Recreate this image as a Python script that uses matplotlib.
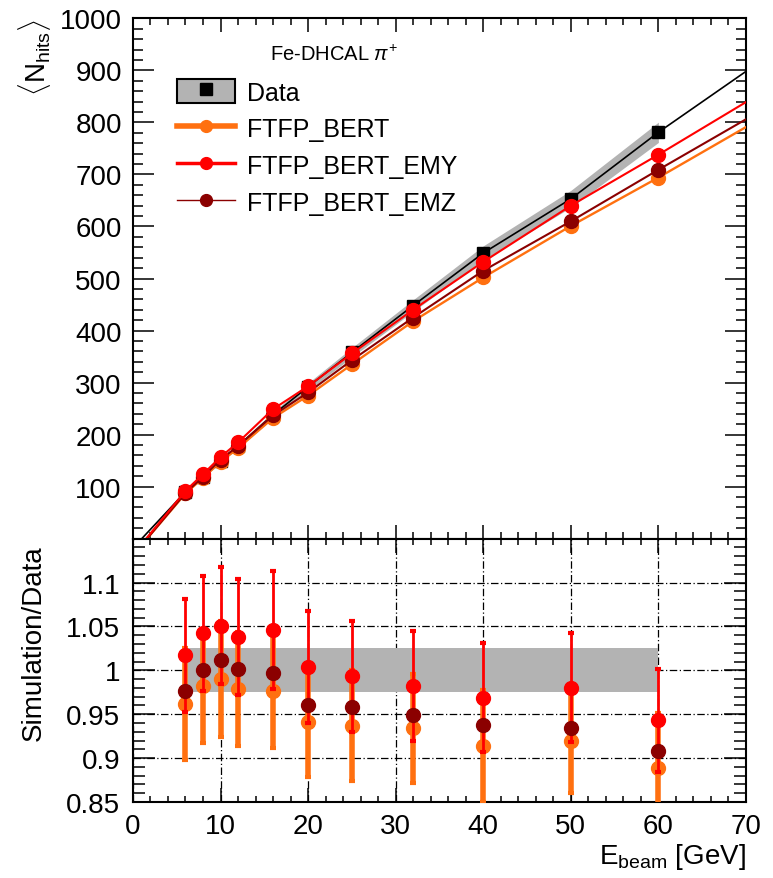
import matplotlib
matplotlib.use("Agg")
import matplotlib.pyplot as plt
import numpy as np
from matplotlib.patches import Patch
from matplotlib.lines import Line2D
from matplotlib.legend_handler import HandlerTuple
from matplotlib.ticker import MultipleLocator, FixedLocator

plt.rcParams['font.family'] = ['Liberation Sans', 'DejaVu Sans']
plt.rcParams['mathtext.fontset'] = 'custom'
plt.rcParams['mathtext.rm'] = 'Liberation Sans'
plt.rcParams['mathtext.it'] = 'Liberation Sans:italic'

# beam energies [GeV]
energy = [6, 8, 10, 12, 16, 20, 25, 32, 40, 50, 60]

# mean number of hits
nhits_data = [90, 119, 150, 178, 238, 292, 358, 448, 549, 653, 781]
nhits_bert = [87, 117, 148, 174, 232, 275, 335, 418, 502, 601, 694]
nhits_emy = [92, 124, 157, 185, 249, 293, 356, 440, 532, 640, 738]
nhits_emz = [88, 119, 152, 178, 237, 281, 343, 425, 515, 610, 709]

# fit lines: start energy and value at 70 GeV
fit_start = {"data": 1.0, "bert": 1.6, "emy": 1.5, "emz": 1.6}
fit_end = {"data": 898, "bert": 791, "emy": 839, "emz": 806}

# simulation / data ratios
ratio_bert = [0.962, 0.982, 0.990, 0.979, 0.976, 0.941, 0.937, 0.934, 0.914, 0.920, 0.889]
err_bert = [0.064, 0.065, 0.066, 0.065, 0.065, 0.062, 0.063, 0.062, 0.064, 0.060, 0.062]
ratio_emy = [1.017, 1.042, 1.051, 1.038, 1.046, 1.004, 0.993, 0.982, 0.969, 0.980, 0.943]
err_emy = [0.064, 0.065, 0.067, 0.066, 0.067, 0.064, 0.063, 0.063, 0.062, 0.062, 0.059]
ratio_emz = [0.977, 1.000, 1.012, 1.001, 0.997, 0.961, 0.958, 0.949, 0.938, 0.934, 0.908]
data_syst = 0.025

c_bert = '#ff7010'
c_emy = '#ff0000'
c_emz = '#8b0000'
c_band = '#b3b3b3'

fig = plt.figure(figsize=(7.73, 8.79), dpi=100)
ax1 = fig.add_axes([0.172, 0.386, 0.793, 0.592])
ax2 = fig.add_axes([0.172, 0.0865, 0.793, 0.2995])

# ---- upper panel
e = np.array(energy, dtype=float)
d = np.array(nhits_data, dtype=float)
ax1.fill_between(e, d * (1 - data_syst), d * (1 + data_syst), color=c_band, lw=0, zorder=1)

def fit_line(key, vals):
    xs = [fit_start[key]] + energy + [70]
    ys = [0] + list(vals) + [fit_end[key]]
    return xs, ys

xs, ys = fit_line("data", nhits_data)
ax1.plot(xs, ys, color='black', lw=1.2, zorder=3)
ax1.plot(energy, nhits_data, 's', color='black', ms=8.5, zorder=3)
for key, vals, col, lw in [("bert", nhits_bert, c_bert, 1.7),
                           ("emz", nhits_emz, c_emz, 1.5),
                           ("emy", nhits_emy, c_emy, 1.5)]:
    xs, ys = fit_line(key, vals)
    ax1.plot(xs, ys, color=col, lw=lw, zorder=4)
    ax1.plot(energy, vals, 'o', color=col, ms=10, zorder=4)

ax1.set_xlim(0, 70)
ax1.set_ylim(0, 1000)
ax1.xaxis.set_major_locator(MultipleLocator(10))
ax1.xaxis.set_minor_locator(MultipleLocator(2))
ax1.yaxis.set_major_locator(FixedLocator(range(100, 1001, 100)))
ax1.yaxis.set_minor_locator(MultipleLocator(20))
ax1.tick_params(axis='both', which='both', direction='in', top=True, right=True, width=1.1)
ax1.tick_params(axis='x', which='major', length=10, labelbottom=False)
ax1.tick_params(axis='x', which='minor', length=5)
ax1.tick_params(axis='y', which='major', length=15, labelsize=20, pad=8)
ax1.tick_params(axis='y', which='minor', length=7)
for s in ax1.spines.values():
    s.set_linewidth(1.5)

ax1.text(0.328, 0.931, r'Fe-DHCAL $\pi^{+}$', transform=ax1.transAxes,
         ha='center', va='center', fontsize=14.5)

h_data = (Patch(facecolor=c_band, edgecolor='black', lw=1.5),
          Line2D([], [], marker='s', color='black', ls='none', ms=8))
h_bert = Line2D([], [], color=c_bert, lw=4, marker='o', ms=8.5)
h_emy = Line2D([], [], color=c_emy, lw=2.5, marker='o', ms=8.5)
h_emz = Line2D([], [], color=c_emz, lw=1, marker='o', ms=8.5)
ax1.legend([h_data, h_bert, h_emy, h_emz],
           ['Data', 'FTFP_BERT', 'FTFP_BERT_EMY', 'FTFP_BERT_EMZ'],
           handler_map={tuple: HandlerTuple(ndivide=1)},
           loc='upper left', bbox_to_anchor=(0.072, 0.883), frameon=False,
           fontsize=18, handlelength=2.3, handleheight=1.1, handletextpad=0.5,
           labelspacing=0.45, borderpad=0, borderaxespad=0)

# ---- lower panel
ax2.fill_between([6, 60], 1 - data_syst, 1 + data_syst, color=c_band, lw=0, zorder=1)
ax2.errorbar(energy, ratio_bert, yerr=err_bert, fmt='o', color=c_bert, ms=10,
             elinewidth=4, capsize=2.5, capthick=3, zorder=3)
ax2.errorbar(energy, ratio_emy, yerr=err_emy, fmt='o', color=c_emy, ms=10,
             elinewidth=2, capsize=2.5, capthick=3, zorder=4)
ax2.plot(energy, ratio_emz, 'o', color=c_emz, ms=10, zorder=5)

ax2.set_xlim(0, 70)
ax2.set_ylim(0.85, 1.15)
ax2.xaxis.set_major_locator(MultipleLocator(10))
ax2.xaxis.set_minor_locator(MultipleLocator(2))
yt = [0.85, 0.9, 0.95, 1.0, 1.05, 1.1]
ax2.yaxis.set_major_locator(FixedLocator(yt))
ax2.set_yticklabels(['0.85', '0.9', '0.95', '1', '1.05', '1.1'])
ax2.yaxis.set_minor_locator(MultipleLocator(0.01))
ax2.tick_params(axis='both', which='both', direction='in', top=True, right=True, width=1.1)
ax2.tick_params(axis='x', which='major', length=10, labelsize=20, pad=8)
ax2.tick_params(axis='x', which='minor', length=4.5)
ax2.tick_params(axis='y', which='major', length=16, labelsize=20, pad=9)
ax2.tick_params(axis='y', which='minor', length=8.5)
ax2.set_axisbelow(True)
ax2.grid(True, which='major', color='black', lw=0.9, ls=(0, (6, 2, 1, 2)))
for s in ax2.spines.values():
    s.set_linewidth(1.5)

ax2.text(1.0, -0.15, r'E$_{\mathrm{beam}}$ [GeV]', transform=ax2.transAxes,
         ha='right', va='top', fontsize=20)
fig.text(34 / 773, 0.268, 'Simulation/Data', rotation=90, ha='center', va='center', fontsize=20)
fig.text(35 / 773, 0.978, r'$\langle$N$_{\mathrm{hits}}\rangle$', rotation=90,
         ha='center', va='top', fontsize=20)

fig.savefig('out.png', dpi=100)
